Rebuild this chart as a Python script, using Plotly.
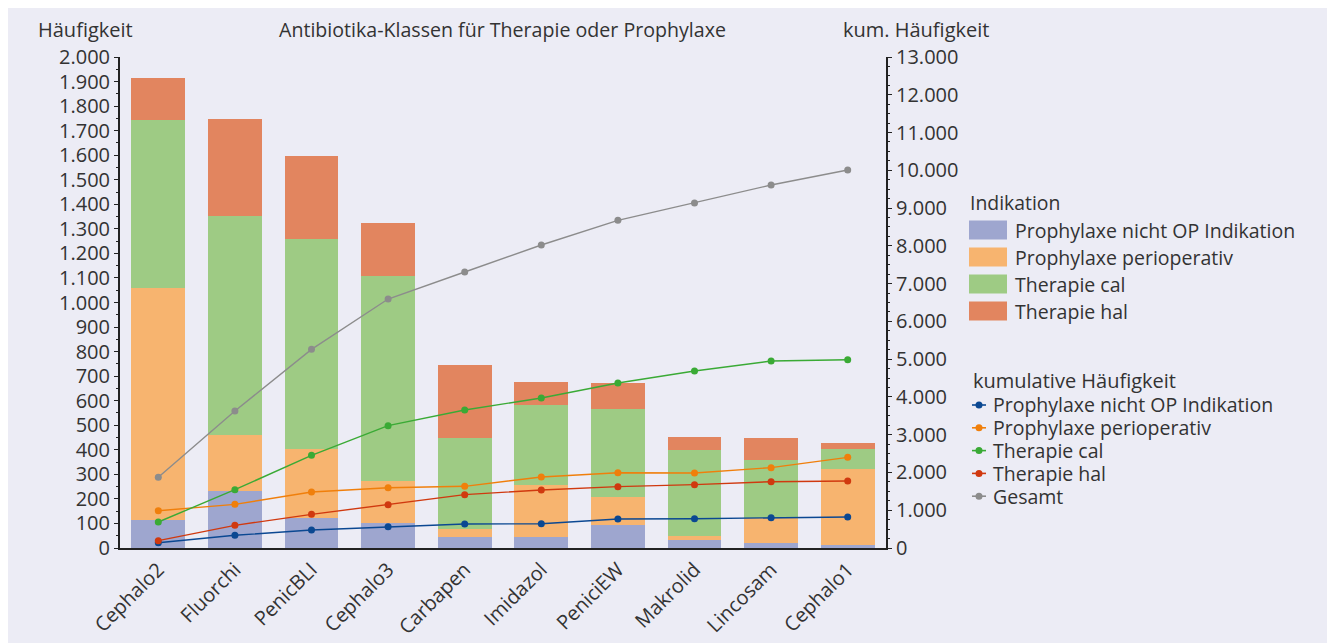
import plotly.graph_objects as go

# Kategorien (Antibiotika-Klassen)
klassen = ["Cephalo2", "Fluorchi", "PenicBLI", "Cephalo3", "Carbapen",
           "Imidazol", "PeniciEW", "Makrolid", "Lincosam", "Cephalo1"]

# Häufigkeit je Indikation (gestapelte Balken)
prophylaxe_nicht_op = [114, 233, 121, 102, 45, 45, 94, 33, 22, 13]
prophylaxe_periop = [945, 226, 282, 171, 31, 212, 114, 17, 99, 308]
therapie_cal = [686, 893, 856, 834, 373, 325, 358, 349, 237, 83]
therapie_hal = [171, 395, 338, 217, 298, 94, 107, 53, 91, 24]

# kumulative Häufigkeit (rechte Achse)
kum_nicht_op = [140, 336, 476, 564, 635, 643, 768, 776, 802, 821]
kum_periop = [988, 1156, 1483, 1597, 1633, 1880, 1994, 1986, 2127, 2401]
kum_cal = [688, 1544, 2453, 3239, 3654, 3971, 4369, 4686, 4951, 4986]
kum_hal = [194, 600, 891, 1147, 1412, 1536, 1624, 1677, 1756, 1774]
kum_gesamt = [1871, 3627, 5260, 6592, 7307, 8022, 8676, 9134, 9611, 10008]

namen = ["Prophylaxe nicht OP Indikation", "Prophylaxe perioperativ",
         "Therapie cal", "Therapie hal"]
bar_farben = ["#9ea6cf", "#f7b46f", "#9ecb84", "#e2855f"]
line_farben = ["#0b4892", "#f07f0b", "#3aaa35", "#d0390f", "#8c8c8c"]

bg = "#ececf5"
txt = "#333333"
font = "Open Sans"

fig = go.Figure()

for vals, name, col in zip([prophylaxe_nicht_op, prophylaxe_periop, therapie_cal, therapie_hal],
                           namen, bar_farben):
    fig.add_trace(go.Bar(x=klassen, y=vals, name=name, marker_color=col,
                         marker_line_width=0, width=0.7, showlegend=False))

for vals, name, col in zip([kum_nicht_op, kum_periop, kum_cal, kum_hal, kum_gesamt],
                           namen + ["Gesamt"], line_farben):
    fig.add_trace(go.Scatter(x=klassen, y=vals, name=name, yaxis="y2",
                             mode="lines+markers", line=dict(color=col, width=1.4),
                             marker=dict(color=col, size=7), showlegend=False))

# Bildschirmpixel -> Papierkoordinaten (Plotbereich x 120..886, y 57..548)
def px(x):
    return (x - 120) / 766

def py(y):
    return (548 - y) / 491

ann = [
    dict(x=px(36), y=py(30), text="Häufigkeit", xanchor="left"),
    dict(x=px(502), y=py(30), text="Antibiotika-Klassen für Therapie oder Prophylaxe",
         xanchor="center", size=19.6),
    dict(x=px(841), y=py(30), text="kum. Häufigkeit", xanchor="left"),
    dict(x=px(968), y=py(203), text="Indikation", xanchor="left", size=19.4),
    dict(x=px(971), y=py(380), text="kumulative Häufigkeit", xanchor="left", size=20),
]
shapes = []

# Legende Indikation
for i, (name, col) in enumerate(zip(namen, bar_farben)):
    yc = 230 + i * 27
    shapes.append(dict(type="rect", xref="paper", yref="paper",
                       x0=px(969), x1=px(1007), y0=py(yc - 9.5), y1=py(yc + 9.5),
                       fillcolor=col, line=dict(width=0)))
    ann.append(dict(x=px(1013), y=py(yc), text=name, xanchor="left", size=19.5))

# Legende kumulative Häufigkeit
for i, (name, col) in enumerate(zip(namen + ["Gesamt"], line_farben)):
    yc = 405 + i * 22.8
    shapes.append(dict(type="line", xref="paper", yref="paper",
                       x0=px(972), x1=px(986), y0=py(yc), y1=py(yc),
                       line=dict(color=col, width=1.6)))
    shapes.append(dict(type="circle", xref="paper", yref="paper",
                       x0=px(975.5), x1=px(982.5), y0=py(yc - 3.5), y1=py(yc + 3.5),
                       fillcolor=col, line=dict(width=0)))
    ann.append(dict(x=px(991), y=py(yc), text=name, xanchor="left", size=19.5))

annotations = [dict(x=a["x"], y=a["y"], text=a["text"], xref="paper", yref="paper",
                    xanchor=a["xanchor"], yanchor="middle", showarrow=False,
                    font=dict(family=font, size=a.get("size", 20), color=txt))
               for a in ann]

fig.update_layout(
    barmode="stack",
    width=1323, height=635,
    margin=dict(l=112, r=445, t=49, b=95),
    paper_bgcolor=bg, plot_bgcolor=bg,
    separators=",.",
    font=dict(family=font, size=20, color=txt),
    xaxis=dict(range=[-0.5, 9.5], showline=True, linecolor="#222222", linewidth=2,
               ticks="", tickangle=-45, showgrid=False, zeroline=False,
               automargin=False, tickfont=dict(size=20, color=txt)),
    yaxis=dict(range=[0, 2000], dtick=100, tickformat=",d", showline=True,
               linecolor="#222222", linewidth=2, ticks="outside", ticklen=4,
               tickcolor="#222222", showgrid=False, zeroline=False, automargin=False,
               minor=dict(ticks="outside", ticklen=2, dtick=50, tickcolor="#222222")),
    yaxis2=dict(range=[0, 13000], dtick=1000, tickformat=",d", overlaying="y",
                side="right", showline=True, linecolor="#222222", linewidth=2,
                ticks="outside", ticklen=4, tickcolor="#222222", showgrid=False,
                zeroline=False, automargin=False,
                minor=dict(ticks="outside", ticklen=2, dtick=250, tickcolor="#222222")),
    annotations=annotations,
    shapes=shapes,
)

fig.write_html("out.html")
